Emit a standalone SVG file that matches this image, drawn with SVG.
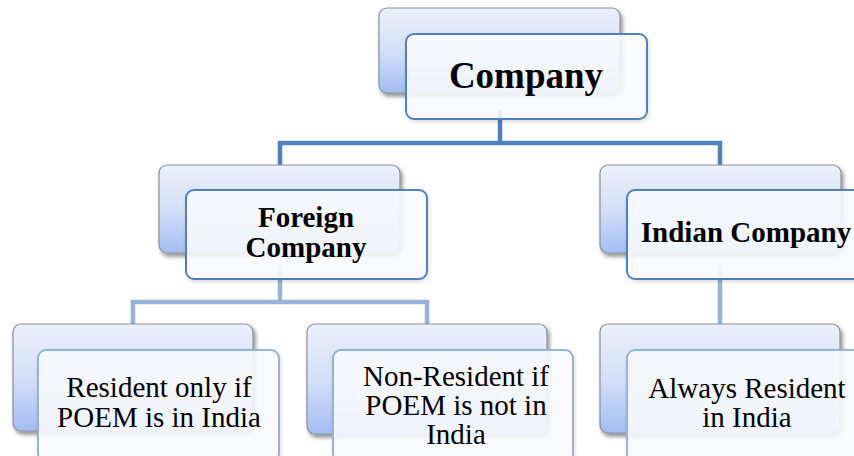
<svg xmlns="http://www.w3.org/2000/svg" width="854" height="456" viewBox="0 0 854 456">
  <defs>
    <linearGradient id="backFill" x1="0" y1="0" x2="0" y2="1">
      <stop offset="0" stop-color="#ECF0FB"/>
      <stop offset="0.5" stop-color="#D4E0F8"/>
      <stop offset="1" stop-color="#A2BDF3"/>
    </linearGradient>
    <filter id="shadow" x="-10%" y="-10%" width="125%" height="135%">
      <feGaussianBlur in="SourceAlpha" stdDeviation="2"/>
      <feOffset dx="2" dy="3" result="b"/>
      <feComponentTransfer><feFuncA type="linear" slope="0.45"/></feComponentTransfer>
      <feMerge><feMergeNode/><feMergeNode in="SourceGraphic"/></feMerge>
    </filter>
    <filter id="softShadow" x="-10%" y="-10%" width="125%" height="135%">
      <feGaussianBlur in="SourceAlpha" stdDeviation="2"/>
      <feOffset dx="1" dy="2" result="b"/>
      <feComponentTransfer><feFuncA type="linear" slope="0.15"/></feComponentTransfer>
      <feMerge><feMergeNode/><feMergeNode in="SourceGraphic"/></feMerge>
    </filter>
  </defs>
  <style>
    .back { fill: url(#backFill); stroke: #8A8F99; stroke-width: 1.2; filter: url(#shadow); }
    .front { fill: #FBFCFF; fill-opacity: 0.88; stroke-width: 2; filter: url(#softShadow); }
    .f1 { stroke: #4F81BD; }
    .f2 { stroke: #95B3D7; }
    .wire1 { fill: none; stroke: #4F81BD; stroke-width: 4.5; }
    .wire2 { fill: none; stroke: #95B3D7; stroke-width: 4.5; }
  </style>

  <rect width="854" height="456" fill="#FFFFFF"/>

  <!-- connectors -->
  <g id="connectors">
    <path class="wire1" d="M500 110 V143 M280 165 V143 H720 V165"/>
    <path class="wire2" d="M280 265 V302 M133 324 V302 H427 V324 M720 265 V324"/>
  </g>

  <g font-family="Liberation Serif, Times New Roman, serif" fill="#000000" text-anchor="middle">
    <g id="company">
      <rect class="back" x="379" y="8" width="241" height="85" rx="8"/>
      <rect class="front f1" x="406" y="34" width="241" height="85" rx="8"/>
      <text x="526" y="88" font-size="37" font-weight="bold">Company</text>
    </g>

    <g id="foreign-company">
      <rect class="back" x="159" y="165" width="241" height="88" rx="8"/>
      <rect class="front f1" x="186" y="190" width="241" height="89" rx="8"/>
      <text x="306" y="227" font-size="29" font-weight="bold">Foreign</text>
      <text x="306" y="257" font-size="29" font-weight="bold">Company</text>
    </g>

    <g id="indian-company">
      <rect class="back" x="600" y="165" width="241" height="88" rx="8"/>
      <rect class="front f1" x="627" y="190" width="241" height="89" rx="8"/>
      <text x="746" y="242" font-size="29" font-weight="bold">Indian Company</text>
    </g>

    <g id="resident-if-poem">
      <rect class="back" x="13" y="324" width="240" height="107" rx="8"/>
      <rect class="front f2" x="38" y="350" width="241" height="112" rx="8"/>
      <text x="159" y="397" font-size="29">Resident only if</text>
      <text x="159" y="427" font-size="29">POEM is in India</text>
    </g>

    <g id="non-resident">
      <rect class="back" x="307" y="324" width="240" height="110" rx="8"/>
      <rect class="front f2" x="333" y="350" width="240" height="112" rx="8"/>
      <text x="456" y="386" font-size="29">Non-Resident if</text>
      <text x="456" y="415" font-size="29">POEM is not in</text>
      <text x="456" y="444" font-size="29">India</text>
    </g>

    <g id="always-resident">
      <rect class="back" x="600" y="324" width="240" height="109" rx="8"/>
      <rect class="front f2" x="627" y="350" width="241" height="112" rx="8"/>
      <text x="747" y="398" font-size="29">Always Resident</text>
      <text x="747" y="427" font-size="29">in India</text>
    </g>
  </g>
</svg>
